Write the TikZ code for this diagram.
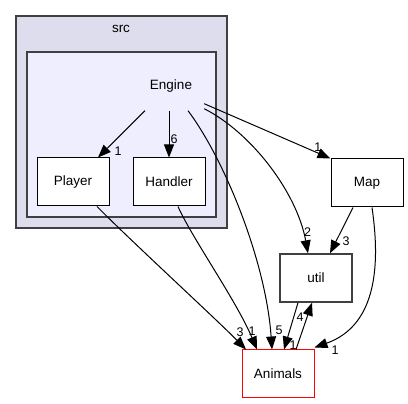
\documentclass[tikz,border=0pt]{standalone}
\usepackage{fontspec}
\setmainfont{Liberation Sans}
\usetikzlibrary{arrows.meta}
\definecolor{srcfill}{HTML}{DDDDEE}
\definecolor{engfill}{HTML}{EEEEFF}
\definecolor{framegray}{HTML}{404040}
\begin{document}
\begin{tikzpicture}[x=1pt, y=-1pt,
  dirbox/.style={draw, fill=white, line width=1pt, minimum width=72pt, minimum height=48pt, inner sep=0pt, font=\fontsize{13.5}{15}\selectfont},
  cluster/.style={draw=framegray, line width=1.4pt},
  dep/.style={-{Triangle[length=13pt, width=10pt]}, line width=1pt},
  num/.style={font=\fontsize{12.5}{14}\selectfont, inner sep=1pt}]
  \useasboundingbox (0,0) rectangle (408,404);
  % clusters
  \draw[cluster, fill=srcfill] (16,16) rectangle (227,228);
  \node[font=\fontsize{13.5}{15}\selectfont] (src) at (121,29) {src};
  \draw[cluster, fill=engfill] (27,52) rectangle (216,217);
  \node[font=\fontsize{13.5}{15}\selectfont, minimum width=66pt, minimum height=49pt] (Engine) at (171,86) {Engine};
  % directories
  \node[dirbox] (Player) at (73,182) {Player};
  \node[dirbox] (Handler) at (169,182) {Handler};
  \node[dirbox] (Map) at (367,183) {Map};
  \node[dirbox, draw=framegray, line width=1.4pt] (util) at (316,278) {util};
  \node[dirbox, draw=red] (Animals) at (278,374) {Animals};
  % dependencies from Engine
  \draw[dep] ([xshift=-26pt]Engine.south) -- ([xshift=25pt]Player.north);
  \node[num] at (118,151) {1};
  \draw[dep] ([xshift=-2pt]Engine.south) -- (Handler.north) node[num, pos=0.6, right] {6};
  \draw[dep] ([yshift=7pt]Engine.south east) -- (Map.north west) node[num, pos=0.9, above] {1};
  \draw[dep] ([yshift=2pt]Engine.south east) .. controls (252,133) and (297,193) .. ([xshift=-8pt]util.north) node[num, pos=0.88, right] {2};
  \draw[dep] ([xshift=17pt]Engine.south) .. controls (225,160) and (266,262) .. ([xshift=-6pt]Animals.north);
  \node[num] at (279,330) {5};
  % dependencies of the others
  \draw[dep] ([xshift=-14pt]Map.south) -- ([xshift=14pt]util.north);
  \node[num] at (346,241) {3};
  \draw[dep] ([xshift=5pt]Map.south) .. controls (380,262) and (378,325) .. ([yshift=2pt]Animals.north east);
  \node[num] at (335,350) {1};
  \draw[dep] ([xshift=24pt]Player.south) .. controls (130,240) and (215,318) .. ([xshift=-32pt]Animals.north);
  \node[num] at (240,332) {3};
  \draw[dep] ([xshift=9pt]Handler.south) .. controls (192,238) and (236,300) .. ([xshift=-21pt]Animals.north);
  \node[num] at (252,331) {1};
  \draw[dep] ([xshift=-18pt]util.south) -- ([xshift=6pt]Animals.north);
  \node[num] at (293,345) {1};
  \draw[dep] ([xshift=18pt]Animals.north) -- ([xshift=-4pt]util.south);
  \node[num] at (300,317) {4};
\end{tikzpicture}
\end{document}
